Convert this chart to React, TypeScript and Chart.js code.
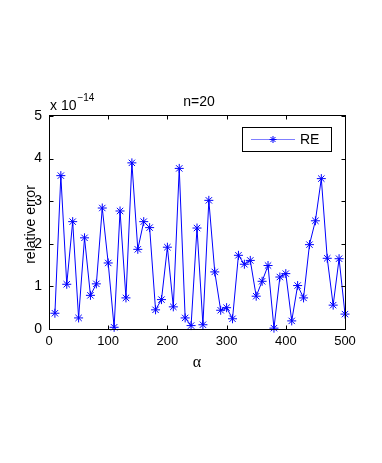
import React, { useEffect, useRef } from "react";
import { Chart, registerables } from "chart.js";

Chart.register(...registerables);

const alpha = [
  10, 20, 30, 40, 50, 60, 70, 80, 90, 100,
  110, 120, 130, 140, 150, 160, 170, 180, 190, 200,
  210, 220, 230, 240, 250, 260, 270, 280, 290, 300,
  310, 320, 330, 340, 350, 360, 370, 380, 390, 400,
  410, 420, 430, 440, 450, 460, 470, 480, 490, 500,
];
// relative error, in units of 1e-14
const relErr = [
  0.37, 3.6, 1.05, 2.52, 0.26, 2.14, 0.79, 1.06, 2.84, 1.55,
  0.04, 2.77, 0.73, 3.9, 1.87, 2.52, 2.38, 0.45, 0.69, 1.92,
  0.52, 3.77, 0.26, 0.08, 2.37, 0.1, 3.02, 1.34, 0.44, 0.5,
  0.24, 1.73, 1.52, 1.61, 0.77, 1.12, 1.49, 0.02, 1.22, 1.3,
  0.19, 1.02, 0.73, 1.98, 2.54, 3.53, 1.66, 0.56, 1.65, 0.35,
];
const xTicks = [0, 100, 200, 300, 400, 500];
const yTicks = [0, 1, 2, 3, 4, 5];
const seriesLabel = "RE";
const titleText = "n=20";
const xLabel = "\u03b1";
const yLabel = "relative error";
const expBase = "x 10";
const expPower = "\u221214";

const BLUE = "#0000ff";
const SANS = '"Liberation Sans", Arial, Helvetica, sans-serif';
const SERIF = '"Liberation Serif", "Times New Roman", serif';

function drawStar(ctx: CanvasRenderingContext2D, cx: number, cy: number, r: number) {
  ctx.beginPath();
  ctx.moveTo(cx - r, cy);
  ctx.lineTo(cx + r, cy);
  ctx.moveTo(cx, cy - r);
  ctx.lineTo(cx, cy + r);
  const d = r * Math.SQRT1_2;
  ctx.moveTo(cx - d, cy - d);
  ctx.lineTo(cx + d, cy + d);
  ctx.moveTo(cx - d, cy + d);
  ctx.lineTo(cx + d, cy - d);
  ctx.stroke();
}

const decor = {
  id: "decor",
  afterDraw(chart: any) {
    const { ctx, chartArea: a, scales } = chart;
    const xs = scales.x;
    const ys = scales.y;
    ctx.save();
    ctx.strokeStyle = "#000";
    ctx.lineWidth = 1;
    const L = Math.round(a.left) + 0.5;
    const R = Math.round(a.right) + 0.5;
    const T = Math.round(a.top) - 0.5;
    const B = Math.round(a.bottom) + 0.5;
    ctx.strokeRect(L, T, R - L, B - T);
    const tl = 4;
    ctx.beginPath();
    xTicks.forEach((v) => {
      const p = Math.round(xs.getPixelForValue(v)) + 0.5;
      ctx.moveTo(p, B);
      ctx.lineTo(p, B - tl);
      ctx.moveTo(p, T);
      ctx.lineTo(p, T + tl);
    });
    yTicks.forEach((v) => {
      const p = Math.round(ys.getPixelForValue(v)) + 0.5;
      ctx.moveTo(L, p);
      ctx.lineTo(L + tl, p);
      ctx.moveTo(R, p);
      ctx.lineTo(R - tl, p);
    });
    ctx.stroke();

    ctx.fillStyle = "#000";
    // title
    ctx.font = `14px ${SANS}`;
    ctx.textAlign = "center";
    ctx.textBaseline = "middle";
    ctx.fillText(titleText, (a.left + a.right) / 2 + 2, 102);

    // exponent
    ctx.textAlign = "left";
    ctx.textBaseline = "alphabetic";
    ctx.font = `14px ${SANS}`;
    ctx.fillText(expBase, a.left + 1, 110);
    const w = ctx.measureText(expBase).width;
    ctx.font = `10px ${SANS}`;
    ctx.fillText(expPower, a.left + 1 + w + 1, 101);

    // x label
    ctx.font = `16px ${SERIF}`;
    ctx.textAlign = "center";
    ctx.textBaseline = "middle";
    ctx.fillText(xLabel, (a.left + a.right) / 2, 363);

    // y label
    ctx.save();
    ctx.translate(31, (a.top + a.bottom) / 2 + 2);
    ctx.rotate(-Math.PI / 2);
    ctx.font = `14px ${SANS}`;
    ctx.textAlign = "center";
    ctx.textBaseline = "middle";
    ctx.fillText(yLabel, 0, 0);
    ctx.restore();

    // legend
    const lx = 242.5, ly = 127.5, lw = 89, lh = 24;
    ctx.fillStyle = "#fff";
    ctx.fillRect(lx, ly, lw, lh);
    ctx.strokeStyle = "#000";
    ctx.strokeRect(lx, ly, lw, lh);
    const my = ly + lh / 2;
    ctx.strokeStyle = "#7f7fff";
    ctx.beginPath();
    ctx.moveTo(251, my);
    ctx.lineTo(295, my);
    ctx.stroke();
    ctx.strokeStyle = BLUE;
    drawStar(ctx, 273, my, 3.5);
    ctx.fillStyle = "#000";
    ctx.font = `14px ${SANS}`;
    ctx.textAlign = "left";
    ctx.textBaseline = "middle";
    ctx.fillText(chart.data.datasets[0].label, 300, my + 1);
    ctx.restore();
  },
};

export default function App() {
  const ref = useRef<HTMLCanvasElement | null>(null);
  useEffect(() => {
    if (!ref.current) return;
    const chart = new Chart(ref.current, {
      type: "line",
      data: {
        datasets: [
          {
            label: seriesLabel,
            data: alpha.map((a, i) => ({ x: a, y: relErr[i] })),
            borderColor: BLUE,
            backgroundColor: BLUE,
            borderWidth: 1,
            pointStyle: "star",
            pointRadius: 4.5,
            pointBorderWidth: 1,
            pointBorderColor: BLUE,
            pointHoverRadius: 4.5,
            tension: 0,
            fill: false,
            clip: false,
          },
        ],
      },
      options: {
        animation: false,
        responsive: false,
        maintainAspectRatio: false,
        events: [],
        layout: { padding: { top: 116, right: 37, left: 0, bottom: 0 } },
        plugins: { legend: { display: false }, tooltip: { enabled: false }, title: { display: false } },
        scales: {
          x: {
            type: "linear",
            min: 0,
            max: 500,
            afterFit: (s: any) => { s.height = 134; },
            afterBuildTicks: (s: any) => { s.ticks = xTicks.map((v) => ({ value: v })); },
            grid: { display: false, drawTicks: false },
            border: { display: false },
            ticks: {
              color: "#000",
              padding: 5,
              maxRotation: 0,
              autoSkip: false,
              font: { family: SANS, size: 13 },
              callback: (v: any) => String(v),
            },
          },
          y: {
            type: "linear",
            min: 0,
            max: 5,
            afterFit: (s: any) => { s.width = 49; },
            afterBuildTicks: (s: any) => { s.ticks = yTicks.map((v) => ({ value: v })); },
            grid: { display: false, drawTicks: false },
            border: { display: false },
            ticks: {
              color: "#000",
              padding: 7,
              autoSkip: false,
              font: { family: SANS, size: 14 },
              callback: (v: any) => String(v),
            },
          },
        },
      },
      plugins: [decor],
    });
    return () => chart.destroy();
  }, []);
  return (
    <div style={{ position: "absolute", left: 0, top: 0, width: 382, height: 463, background: "#fff" }}>
      <canvas ref={ref} width={382} height={463} style={{ display: "block", width: 382, height: 463 }} />
    </div>
  );
}
